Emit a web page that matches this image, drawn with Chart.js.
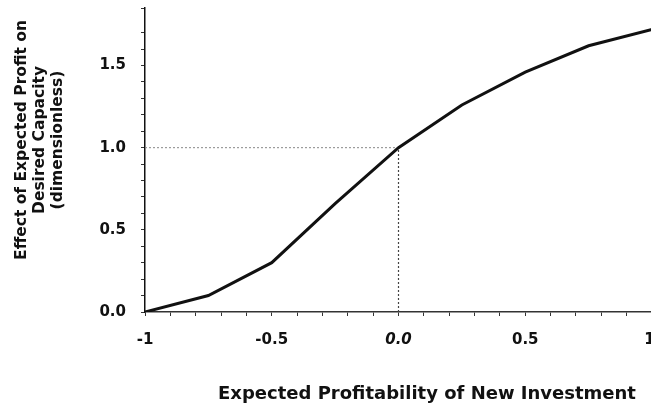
<!DOCTYPE html>
<html>
<head>
<meta charset="utf-8">
<script src="https://cdn.jsdelivr.net/npm/chart.js@4.4.0/dist/chart.umd.min.js"></script>
<style>
  html, body { margin: 0; padding: 0; background: #fff; overflow: hidden; }
  #wrap { width: 652px; height: 406px; }
</style>
</head>
<body>
<div id="wrap"><canvas id="mygraph"></canvas></div>
<script>
const profitability = [-1, -0.75, -0.5, -0.25, 0, 0.25, 0.5, 0.75, 1]
const effect = [0, 0.1, 0.3, 0.66, 1.0, 1.26, 1.46, 1.62, 1.72]

const xTickValues = [-1, -0.5, 0, 0.5, 1]
const xTickLabels = ['-1', '-0.5', '0.0', '0.5', '1 ']
const yTickValues = [0, 0.5, 1, 1.5]
const yTickLabels = ['0.0', '0.5', '1.0', '1.5']

const refX = 0
const refY = 1.0

const yTitle = ['Effect of Expected Profit on', 'Desired Capacity', '(dimensionless)']
const xTitle = 'Expected Profitability of New Investment'

const FONT = "'DejaVu Sans'"

function findLabel(values, labels, v) {
  for (let i = 0; i < values.length; i++) {
    if (Math.abs(values[i] - v) < 1e-6) return labels[i]
  }
  return ''
}

// draws both axis titles where the original has them
const titlesPlugin = {
  id: 'titles',
  afterDraw(chart) {
    const ctx = chart.ctx
    ctx.save()
    ctx.fillStyle = '#111'
    ctx.font = 'bold 15.5px ' + FONT
    ctx.textAlign = 'center'
    ctx.textBaseline = 'middle'
    const xs = [22, 40, 58]
    yTitle.forEach((line, i) => {
      ctx.save()
      ctx.translate(xs[i], 140)
      ctx.rotate(-Math.PI / 2)
      ctx.fillText(line, 0, 0)
      ctx.restore()
    })
    ctx.font = 'bold 18px ' + FONT
    ctx.textBaseline = 'alphabetic'
    ctx.fillText(xTitle, 427, 399)
    ctx.restore()
  }
}

const data = {
  datasets: [
    {
      label: 'effect',
      data: profitability.map((x, i) => ({ x: x, y: effect[i] })),
      borderColor: '#111',
      borderWidth: 3,
      pointRadius: 0,
      tension: 0
    },
    {
      label: 'refH',
      data: [{ x: -1, y: refY }, { x: refX, y: refY }],
      borderColor: '#888',
      borderWidth: 1,
      borderDash: [2, 2],
      pointRadius: 0
    },
    {
      label: 'refV',
      data: [{ x: refX, y: 0 }, { x: refX, y: refY }],
      borderColor: '#444',
      borderWidth: 1.2,
      borderDash: [2, 2],
      pointRadius: 0
    }
  ]
}

const config = {
  type: 'line',
  data,
  plugins: [titlesPlugin],
  options: {
    responsive: true,
    maintainAspectRatio: false,
    animation: false,
    layout: { padding: 0 },
    plugins: {
      legend: { display: false },
      tooltip: { enabled: false }
    },
    scales: {
      x: {
        type: 'linear',
        min: -1,
        max: 1,
        afterFit(scale) {
          scale.height = 94
          scale.paddingLeft = 0
          scale.paddingRight = 0
        },
        border: { color: '#333', width: 1.5 },
        grid: { drawOnChartArea: false, tickLength: 4, color: '#333' },
        ticks: {
          stepSize: 0.1,
          autoSkip: false,
          maxRotation: 0,
          padding: 15,
          color: '#111',
          font: (c) => ({
            family: FONT, size: 15, weight: 'bold',
            style: (c.tick && Math.abs(c.tick.value) < 1e-6) ? 'italic' : 'normal'
          }),
          callback: (v) => findLabel(xTickValues, xTickLabels, v)
        }
      },
      y: {
        type: 'linear',
        min: 0,
        max: 1.85,
        afterFit(scale) {
          scale.width = 145
          scale.paddingTop = 8
          scale.paddingBottom = 0
        },
        border: { color: '#111', width: 1.5 },
        grid: { drawOnChartArea: false, tickLength: 4, color: '#333' },
        ticks: {
          stepSize: 0.1,
          autoSkip: false,
          padding: 15,
          color: '#111',
          font: { family: FONT, size: 15, weight: 'bold' },
          callback: (v) => findLabel(yTickValues, yTickLabels, v)
        }
      }
    }
  }
}

const mygraph = new Chart(document.getElementById('mygraph'), config)
</script>
</body>
</html>
